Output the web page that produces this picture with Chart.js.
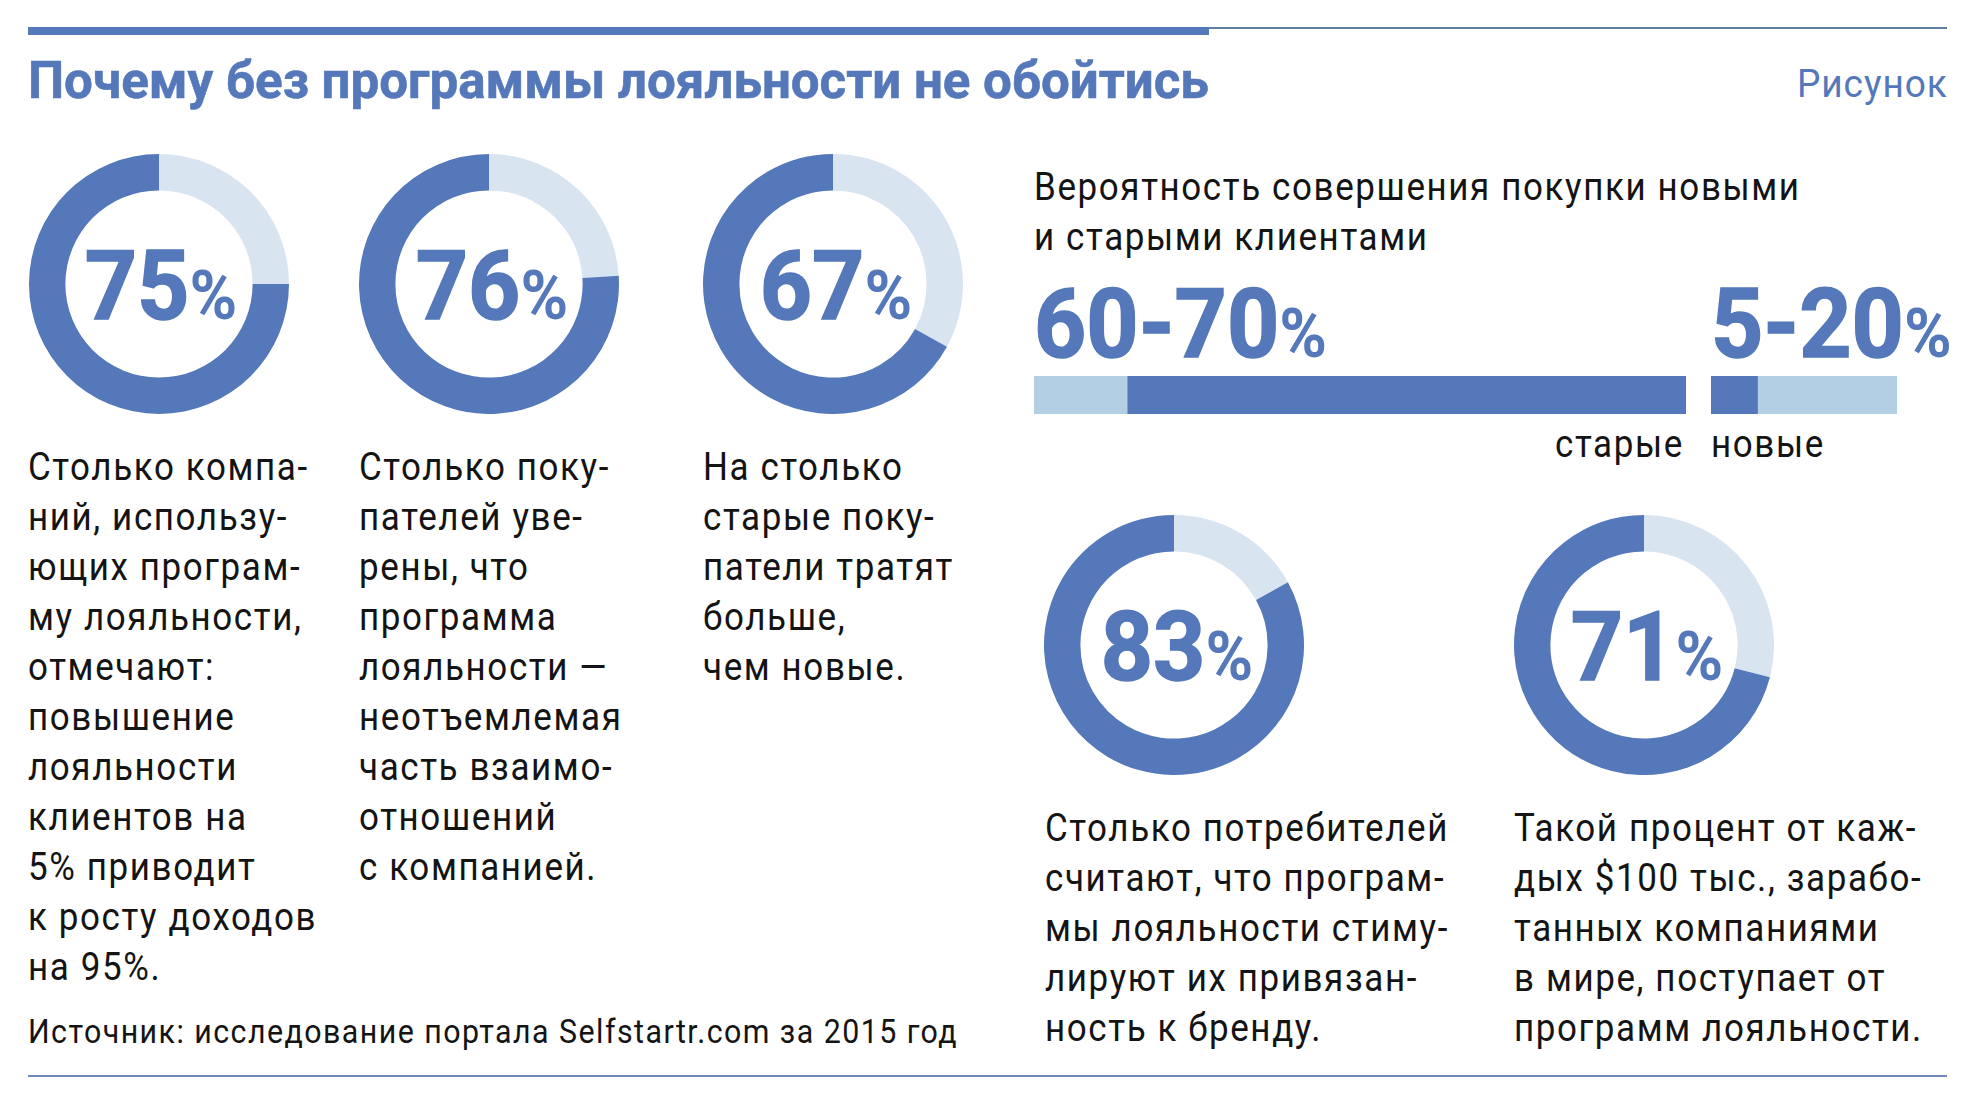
<!DOCTYPE html>
<html lang="ru">
<head>
<meta charset="utf-8">
<title>Почему без программы лояльности не обойтись</title>
<script src="https://cdn.jsdelivr.net/npm/chart.js@4"></script>
<style>
html, body { margin: 0; padding: 0; background: #fff; }
#page { position: relative; width: 1974px; height: 1103px; overflow: hidden; font-family: Roboto, sans-serif; color: #141414; }
#page > * { position: absolute; }
.rule { background: #5f7d9e; height: 2px; }
.txt { font-size: 38px; line-height: 50px; white-space: pre; letter-spacing: 1.75px; transform: scaleX(.92); transform-origin: 0 0; }
.big { font-weight: 700; font-size: 96px; color: #5478b9; -webkit-text-stroke: 1.5px #5478b9; white-space: pre; line-height: 1; transform: scaleX(.95); transform-origin: 0 0; }
.big span { font-size: 68px; -webkit-text-stroke: 0; }
canvas { display: block; }
</style>
</head>
<body>
<div id="page">
  <div class="rule" style="left:28px;top:27px;width:1919px"></div>
  <div style="left:28px;top:27px;width:1181px;height:8px;background:#5478b9"></div>
  <div class="big" id="title" style="left:28px;top:55px;font-size:52px;-webkit-text-stroke:.6px #5478b9;transform:scaleX(.982)">Почему без программы лояльности не обойтись</div>
  <div style="right:26px;top:62px;font-size:39px;line-height:44px;color:#5478b9;letter-spacing:1px;transform:scaleX(.95);transform-origin:100% 0">Рисунок</div>
  <div class="txt" style="left:1034px;top:162px">Вероятность совершения покупки новыми
и старыми клиентами</div>
  <div class="big" style="left:1034px;top:276px">60-70<span>%</span></div>
  <div class="big" style="left:1711px;top:276px">5-20<span>%</span></div>
  <div class="txt" style="left:1555px;top:419px">старые</div>
  <div class="txt" style="left:1711px;top:419px">новые</div>
  <div class="txt" style="left:28px;top:1007px;font-size:33px;letter-spacing:1.58px">Источник: исследование портала Selfstartr.com за 2015 год</div>
  <div class="rule" style="left:28px;top:1075px;width:1919px;background:#7089b8"></div>
</div>
<script>
const donutValues = [75, 76, 67, 83, 71];
const donutRest = [25, 24, 33, 17, 29];
const donutLabels = ['75', '76', '67', '83', '71'];
const donutCenters = [[158.5, 284], [489, 284], [833, 284], [1174, 645], [1644, 645]];
const donutText = [
  'Столько компа-\nний, использу-\nющих програм-\nму лояльности,\nотмечают:\nповышение\nлояльности\nклиентов на\n5% приводит\nк росту доходов\nна 95%.',
  'Столько поку-\nпателей уве-\nрены, что\nпрограмма\nлояльности —\nнеотъемлемая\nчасть взаимо-\nотношений\nс компанией.',
  'На столько\nстарые поку-\nпатели тратят\nбольше,\nчем новые.',
  'Столько потребителей\nсчитают, что програм-\nмы лояльности стиму-\nлируют их привязан-\nность к бренду.',
  'Такой процент от каж-\nдых $100 тыс., зарабо-\nтанных компаниями\nв мире, поступает от\nпрограмм лояльности.'
];
const donutTextPos = [[28, 442], [359, 442], [703, 442], [1045, 803], [1514, 803]];
const barOld = [10, 60];
const barNew = [5, 15];

const blue = '#5478b9';
const paleRing = '#d9e4f1';
const paleBar = '#b3cfe4';
const page = document.getElementById('page');

function addCanvas(left, top, w, h) {
    const c = document.createElement('canvas');
    c.style.cssText = `left:${left}px;top:${top}px;width:${w}px;height:${h}px`;
    c.width = w;
    c.height = h;
    page.appendChild(c);
    return c;
}

const ringSize = 260;
donutValues.forEach((v, i) => {
    const [cx, cy] = donutCenters[i];
    const canvas = addCanvas(cx - ringSize / 2, cy - ringSize / 2, ringSize, ringSize);
    new Chart(canvas, {
        type: 'doughnut',
        data: {
            datasets: [{
                data: [donutRest[i], v],
                backgroundColor: [paleRing, blue],
                borderWidth: 0
            }]
        },
        options: {
            responsive: false,
            animation: false,
            cutout: '72%',
            layout: { padding: 0 },
            plugins: { legend: { display: false }, tooltip: { enabled: false } }
        }
    });

    const label = document.createElement('div');
    label.className = 'big';
    label.style.cssText = `left:${cx + 2.5}px;top:${cy - 46}px;transform:translateX(-50%) scaleX(.95);transform-origin:50% 0`;
    label.innerHTML = donutLabels[i] + '<span>%</span>';
    page.appendChild(label);

    const text = document.createElement('div');
    text.className = 'txt';
    text.style.left = donutTextPos[i][0] + 'px';
    text.style.top = donutTextPos[i][1] + 'px';
    text.textContent = donutText[i];
    page.appendChild(text);
});

function drawBar(left, width, max, values, colors) {
    const canvas = addCanvas(left, 376, width, 38);
    new Chart(canvas, {
        type: 'bar',
        data: {
            labels: [''],
            datasets: values.map((v, i) => ({
                data: [v],
                backgroundColor: colors[i],
                borderWidth: 0,
                barPercentage: 1,
                categoryPercentage: 1
            }))
        },
        options: {
            indexAxis: 'y',
            responsive: false,
            animation: false,
            layout: { padding: 0 },
            scales: {
                x: { display: false, stacked: true, min: 0, max: max },
                y: { display: false, stacked: true }
            },
            plugins: { legend: { display: false }, tooltip: { enabled: false } }
        }
    });
}

drawBar(1034, 652, 70, barOld, [paleBar, blue]);
drawBar(1711, 186, 20, barNew, [blue, paleBar]);
</script>
</body>
</html>
